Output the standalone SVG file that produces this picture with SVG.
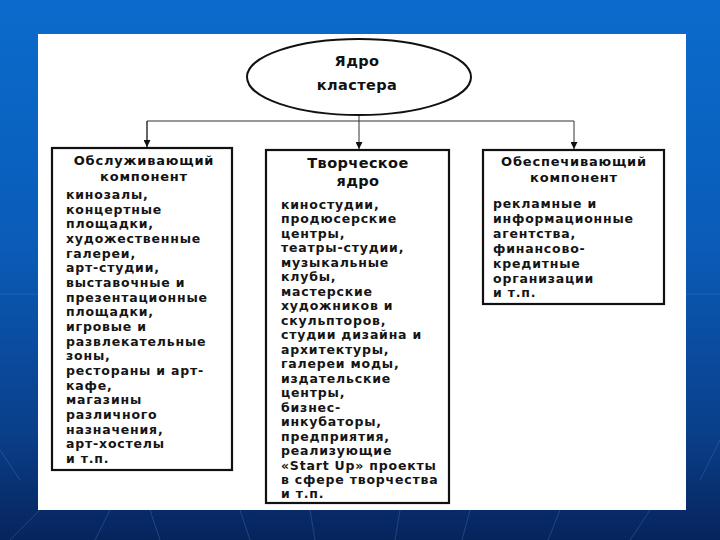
<svg xmlns="http://www.w3.org/2000/svg" width="720" height="540" viewBox="0 0 720 540">
  <defs>
    <linearGradient id="bg" x1="0" y1="0" x2="0" y2="1">
      <stop offset="0" stop-color="#0b6bcc"/>
      <stop offset="0.45" stop-color="#0a5cb8"/>
      <stop offset="0.8" stop-color="#0a3f8a"/>
      <stop offset="1" stop-color="#06245c"/>
    </linearGradient>
    <marker id="arr" viewBox="0 0 10 10" refX="10" refY="5" markerWidth="7" markerHeight="7" orient="auto" markerUnits="userSpaceOnUse">
      <path d="M0,0 L10,5 L0,10 Z" fill="#111"/>
    </marker>
    <style>
      .box { fill: #ffffff; stroke: #111; stroke-width: 2.2; }
      .title { font-family: "DejaVu Sans", "Liberation Sans", sans-serif; font-weight: bold; font-size: 13px; letter-spacing: 0.8px; fill: #111; text-anchor: middle; }
      .title2 { font-family: "DejaVu Sans", "Liberation Sans", sans-serif; font-weight: bold; font-size: 14.5px; letter-spacing: 0.4px; fill: #111; text-anchor: middle; }
      .body { font-family: "DejaVu Sans", "Liberation Sans", sans-serif; font-weight: bold; font-size: 12.5px; letter-spacing: 0.8px; fill: #151515; }
      .conn { stroke: #333; stroke-width: 1; fill: none; }
      .ray { stroke: #4d7fc4; stroke-width: 1; opacity: 0.35; }
    </style>
  </defs>

  <rect x="0" y="0" width="720" height="540" fill="url(#bg)"/>
  <g id="background-rays">
    <line class="ray" x1="0" y1="294" x2="720" y2="294"/>
    <line class="ray" x1="40" y1="510" x2="10" y2="540"/>
    <line class="ray" x1="110" y1="510" x2="95" y2="540"/>
    <line class="ray" x1="150" y1="510" x2="160" y2="540"/>
    <line class="ray" x1="240" y1="510" x2="250" y2="540"/>
    <line class="ray" x1="310" y1="510" x2="315" y2="540"/>
    <line class="ray" x1="400" y1="510" x2="395" y2="540"/>
    <line class="ray" x1="470" y1="510" x2="462" y2="540"/>
    <line class="ray" x1="560" y1="510" x2="548" y2="540"/>
    <line class="ray" x1="650" y1="510" x2="630" y2="540"/>
    <line class="ray" x1="700" y1="480" x2="720" y2="440"/>
    <line class="ray" x1="20" y1="480" x2="0" y2="450"/>
  </g>

  <rect id="panel" x="38" y="34" width="648" height="476" fill="#ffffff"/>

  <g id="connectors">
    <line class="conn" x1="359" y1="115" x2="359" y2="149" marker-end="url(#arr)"/>
    <polyline class="conn" points="147,147 147,121 574,121 574,149" marker-end="url(#arr)"/>
    <line class="conn" x1="147" y1="121" x2="147" y2="147" marker-end="url(#arr)"/>
  </g>

  <g id="core">
    <ellipse cx="359" cy="77" rx="112" ry="38" fill="#ffffff" stroke="#111" stroke-width="2"/>
    <text class="title2" x="357" y="66">Ядро</text>
    <text class="title2" x="357" y="90">кластера</text>
  </g>

  <g id="service">
    <rect class="box" x="52" y="148" width="180" height="322"/>
    <text class="title" x="144" y="165">Обслуживающий</text>
    <text class="title" x="144" y="181">компонент</text>
    <text class="body" x="66" y="199">кинозалы,</text>
    <text class="body" x="66" y="214">концертные</text>
    <text class="body" x="66" y="228">площадки,</text>
    <text class="body" x="66" y="243">художественные</text>
    <text class="body" x="66" y="258">галереи,</text>
    <text class="body" x="66" y="272">арт-студии,</text>
    <text class="body" x="66" y="287">выставочные и</text>
    <text class="body" x="66" y="302">презентационные</text>
    <text class="body" x="66" y="316">площадки,</text>
    <text class="body" x="66" y="331">игровые и</text>
    <text class="body" x="66" y="346">развлекательные</text>
    <text class="body" x="66" y="360">зоны,</text>
    <text class="body" x="66" y="375">рестораны и арт-</text>
    <text class="body" x="66" y="390">кафе,</text>
    <text class="body" x="66" y="404">магазины</text>
    <text class="body" x="66" y="419">различного</text>
    <text class="body" x="66" y="434">назначения,</text>
    <text class="body" x="66" y="448">арт-хостелы</text>
    <text class="body" x="66" y="463">и т.п.</text>
  </g>

  <g id="creative-core">
    <rect class="box" x="266" y="150" width="183" height="353"/>
    <text class="title2" x="358" y="168">Творческое</text>
    <text class="title2" x="358" y="186">ядро</text>
    <text class="body" x="281" y="209">киностудии,</text>
    <text class="body" x="281" y="223">продюсерские</text>
    <text class="body" x="281" y="238">центры,</text>
    <text class="body" x="281" y="252">театры-студии,</text>
    <text class="body" x="281" y="267">музыкальные</text>
    <text class="body" x="281" y="281">клубы,</text>
    <text class="body" x="281" y="296">мастерские</text>
    <text class="body" x="281" y="310">художников и</text>
    <text class="body" x="281" y="325">скульпторов,</text>
    <text class="body" x="281" y="339">студии дизайна и</text>
    <text class="body" x="281" y="354">архитектуры,</text>
    <text class="body" x="281" y="368">галереи моды,</text>
    <text class="body" x="281" y="383">издательские</text>
    <text class="body" x="281" y="397">центры,</text>
    <text class="body" x="281" y="412">бизнес-</text>
    <text class="body" x="281" y="426">инкубаторы,</text>
    <text class="body" x="281" y="441">предприятия,</text>
    <text class="body" x="281" y="455">реализующие</text>
    <text class="body" x="281" y="470">«Start Up» проекты</text>
    <text class="body" x="281" y="484">в сфере творчества</text>
    <text class="body" x="281" y="498">и т.п.</text>
  </g>

  <g id="support">
    <rect class="box" x="483" y="150" width="181" height="154"/>
    <text class="title" x="574" y="166">Обеспечивающий</text>
    <text class="title" x="574" y="182">компонент</text>
    <text class="body" x="493" y="208">рекламные и</text>
    <text class="body" x="493" y="223">информационные</text>
    <text class="body" x="493" y="238">агентства,</text>
    <text class="body" x="493" y="253">финансово-</text>
    <text class="body" x="493" y="268">кредитные</text>
    <text class="body" x="493" y="283">организации</text>
    <text class="body" x="493" y="297">и т.п.</text>
  </g>
</svg>
